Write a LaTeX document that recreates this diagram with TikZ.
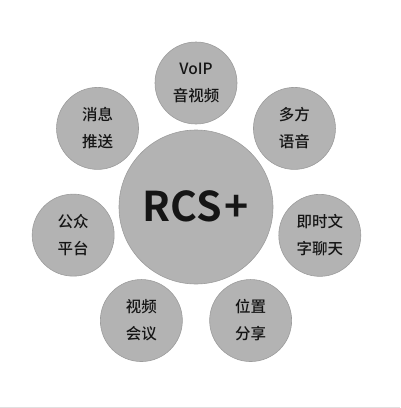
\documentclass[tikz,border=0pt]{standalone}
\usepackage{fontspec}
\newfontfamily\cjk{Noto Sans CJK SC}[UprightFont={* Medium},BoldFont={* Bold}]
\usetikzlibrary{calc,positioning}

\definecolor{ballfill}{HTML}{B3B3B3}
\definecolor{balledge}{HTML}{9C9C9C}
\definecolor{inkblack}{HTML}{151515}

\begin{document}
\begin{tikzpicture}[x=1pt,y=1pt,
	ball/.style={circle, draw=balledge, fill=ballfill, line width=0.6pt,
	inner sep=0pt, text=inkblack, align=center},
	hub/.style={ball, minimum size=154pt,
	font=\cjk\bfseries\fontsize{41}{41}\selectfont},
	leaf/.style={ball, minimum size=82pt,
	font=\cjk\fontsize{15.5}{27}\selectfont}]

\useasboundingbox (0,0) rectangle (400,-408);
\draw[black!12, line width=1pt] (0,-407) -- (400,-407);

\node[hub] (RCS) at (196,-207) {\raisebox{2pt}{RCS\kern3pt+}};

\node[leaf] (voip) at ($(RCS)+(90:124)$) {VoIP\\音视频};
\node[leaf] (multi) at ($(RCS)+(38.6:126)$) {多方\\语音};
\node[leaf] (chat) at ($(RCS)+(-12.9:127)$) {即时文\\字聊天};
\node[leaf] (loc) at ($(RCS)+(-64.3:126)$) {位置\\分享};
\node[leaf] (video) at ($(RCS)+(-115.7:126)$) {视频\\会议};
\node[leaf] (pub) at ($(RCS)+(-167.1:126)$) {公众\\平台};
\node[leaf] (push) at ($(RCS)+(141.4:126)$) {消息\\推送};
\end{tikzpicture}
\end{document}
